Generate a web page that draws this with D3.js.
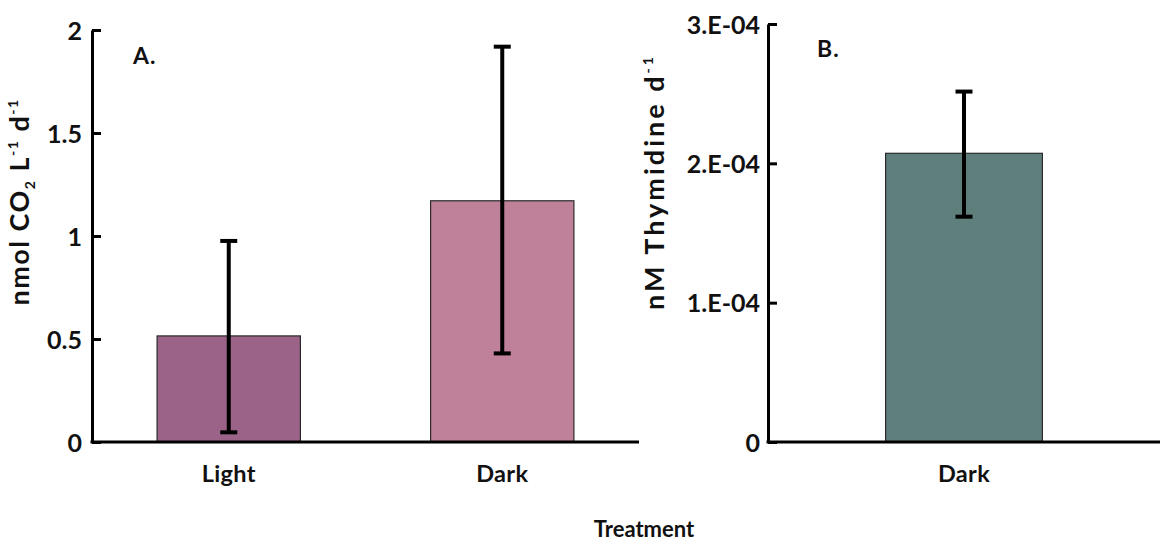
<!DOCTYPE html>
<html><head><meta charset="utf-8">
<script src="https://cdn.jsdelivr.net/npm/d3@7"></script>
<style>
body{margin:0;background:#fff;}
text{font-family:Lato,"Open Sans",sans-serif;font-weight:700;fill:#111;}
</style></head>
<body><svg id="c" width="1160" height="548"></svg>
<script>
// Panel A data
const catsA = ["Light", "Dark"];
const valsA = [0.515, 1.171];
const errLowA = [0.047, 0.43];
const errHighA = [0.976, 1.919];
const colorsA = ["#9b6388", "#bf8199"];
const ticksA = [0, 0.5, 1, 1.5, 2];
const tickLabelsA = ["0", "0.5", "1", "1.5", "2"];

// Panel B data
const catsB = ["Dark"];
const valsB = [2.072e-4];
const errLowB = [1.617e-4];
const errHighB = [2.515e-4];
const colorsB = ["#5f7f7c"];
const ticksB = [0, 1e-4, 2e-4, 3e-4];
const tickLabelsB = ["0", "1.E-04", "2.E-04", "3.E-04"];

const svg = d3.select("#c");

function panel(o){
  const y = d3.scaleLinear().domain(o.domain).range([442, o.top]);
  const x = d3.scaleBand().domain(o.cats).range([o.x0, o.x1]).paddingInner(o.pad).paddingOuter(o.pad/2);
  const g = svg.append("g");
  // bars
  g.selectAll("rect.bar").data(o.vals).join("rect")
    .attr("x",(d,i)=>x(o.cats[i])).attr("width",x.bandwidth())
    .attr("y",d=>y(d)).attr("height",d=>y(0)-y(d))
    .attr("fill",(d,i)=>o.colors[i]).attr("stroke","#2a2a2a").attr("stroke-width",1.2);
  // error bars
  const cx = i => x(o.cats[i]) + x.bandwidth()/2;
  o.vals.forEach((v,i)=>{
    g.append("line").attr("x1",cx(i)).attr("x2",cx(i)).attr("y1",y(o.lo[i])).attr("y2",y(o.hi[i]))
      .attr("stroke","#000").attr("stroke-width",4);
    [o.lo[i],o.hi[i]].forEach(e=>{
      g.append("line").attr("x1",cx(i)-8.5).attr("x2",cx(i)+8.5).attr("y1",y(e)).attr("y2",y(e))
        .attr("stroke","#000").attr("stroke-width",4);
    });
  });
  // y axis
  const ax = g.append("g").attr("transform",`translate(${o.x0},0)`)
    .call(d3.axisLeft(y).tickValues(o.ticks).tickFormat((d,i)=>o.tickLabels[i]).tickSizeInner(-9).tickSizeOuter(0).tickPadding(o.tpad));
  ax.select(".domain").attr("stroke","#000").attr("stroke-width",3);
  ax.selectAll(".tick line").attr("stroke","#000").attr("stroke-width",3);
  ax.selectAll(".tick text").style("font-size","25px").attr("dy","0.36em").attr("fill","#111");
  // x axis
  const bx = g.append("g").attr("transform","translate(0,442)")
    .call(d3.axisBottom(x).tickSize(0).tickPadding(23));
  bx.select(".domain").attr("stroke","#000").attr("stroke-width",3).attr("d",`M${o.x0-1.5},0H${o.x1}`);
  bx.selectAll(".tick text").style("font-size","23.5px").style("letter-spacing","0.3px").attr("fill","#111");
  // panel label
  g.append("text").attr("x",o.lblX).attr("y",o.lblY).style("font-size","23px").style("letter-spacing","1px").text(o.label);
  return g;
}

panel({cats:catsA, vals:valsA, lo:errLowA, hi:errHighA, colors:colorsA, ticks:ticksA, tickLabels:tickLabelsA,
  domain:[0,2], top:30, x0:92, x1:639, pad:0.476, tpad:10, label:"A.", lblX:133, lblY:64});
panel({cats:catsB, vals:valsB, lo:errLowB, hi:errHighB, colors:colorsB, ticks:ticksB, tickLabels:tickLabelsB,
  domain:[0,3e-4], top:24, x0:768, x1:1160, pad:0.6, tpad:8, label:"B.", lblX:817, lblY:57});

// y titles
const tA = svg.append("text").attr("transform","translate(29,202) rotate(-90)").attr("text-anchor","middle")
  .style("font-size","27px").style("letter-spacing","1.5px");
tA.append("tspan").text("nmol CO");
tA.append("tspan").text("2").style("font-size","14px").attr("dy","6");
tA.append("tspan").text(" L").attr("dy","-6");
tA.append("tspan").text("-1").style("font-size","14px").attr("dy","-11");
tA.append("tspan").text(" d").attr("dy","11");
tA.append("tspan").text("-1").style("font-size","14px").attr("dy","-11");

const tB = svg.append("text").attr("transform","translate(664,182) rotate(-90)").attr("text-anchor","middle")
  .style("font-size","27px").style("letter-spacing","3px");
tB.append("tspan").text("nM Thymidine d");
tB.append("tspan").text("-1").style("font-size","14px").attr("dy","-11");

svg.append("text").attr("x",644).attr("y",537).attr("text-anchor","middle").style("font-size","22px").text("Treatment");
</script></body></html>
